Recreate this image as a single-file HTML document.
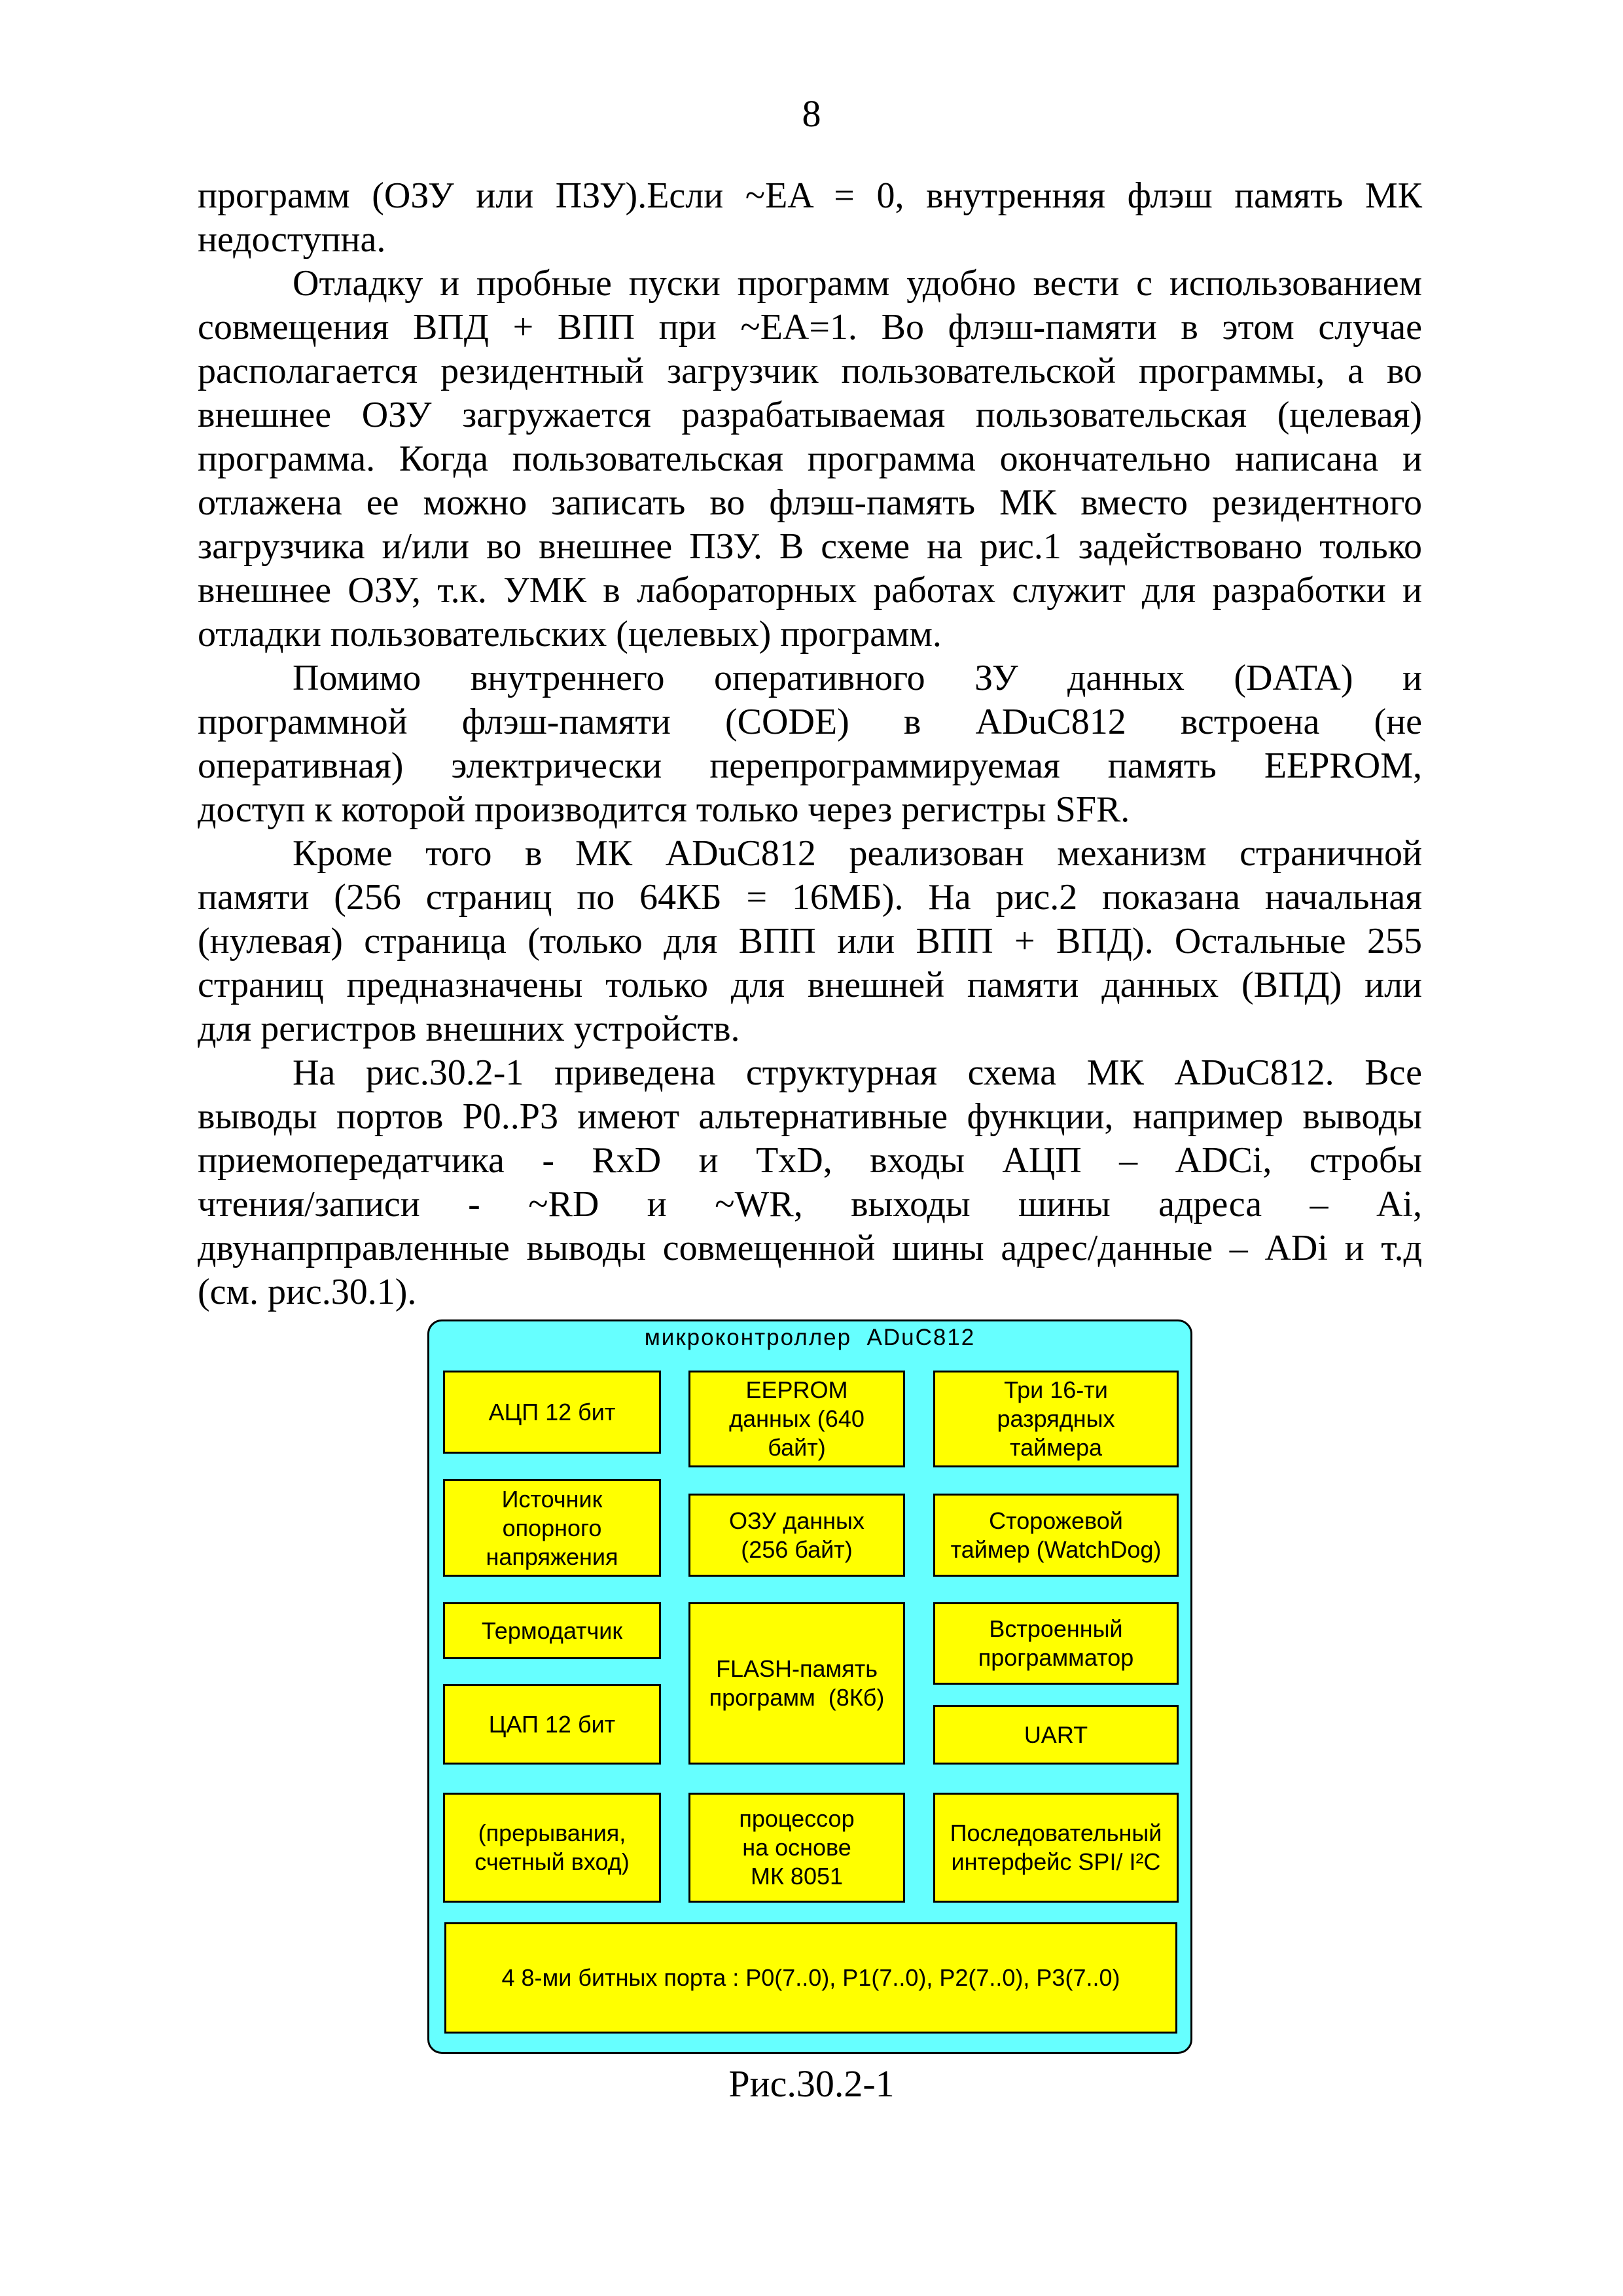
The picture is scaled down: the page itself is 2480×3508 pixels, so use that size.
<!DOCTYPE html>
<html><head><meta charset="utf-8">
<style>
html,body{margin:0;padding:0;background:#fff;}
body{width:2480px;height:3508px;position:relative;overflow:hidden;}
.pn{position:absolute;left:0;width:2480px;top:140px;text-align:center;font:58px "Liberation Serif",serif;line-height:67px;}
.l{position:absolute;left:302px;width:1871px;height:67px;font:56px "Liberation Serif",serif;line-height:67px;color:#000;white-space:nowrap;}
.j{text-align:justify;text-align-last:justify;white-space:normal;}
.i{left:447px;width:1726px;}
.outer{position:absolute;left:653px;top:2016px;width:1163px;height:1116px;background:#66ffff;border:3px solid #000;border-radius:22px;}
.title{position:absolute;left:653px;width:1169px;top:2024px;text-align:center;font:35px "Liberation Sans","DejaVu Sans",sans-serif;letter-spacing:2px;}
.b{position:absolute;background:#ffff00;border:3px solid #000;box-sizing:border-box;display:flex;align-items:center;justify-content:center;text-align:center;font:36px/44px "Liberation Sans","DejaVu Sans",sans-serif;color:#000;}
.cap{position:absolute;left:0;width:2480px;top:3150px;text-align:center;font:58px "Liberation Serif",serif;}
</style></head><body>
<div class="pn">8</div>
<div class="l j" style="top:266px">программ (ОЗУ или ПЗУ).Если ~EA = 0, внутренняя флэш память МК</div>
<div class="l" style="top:333px">недоступна.</div>
<div class="l j i" style="top:400px">Отладку и пробные пуски программ удобно вести с использованием</div>
<div class="l j" style="top:467px">совмещения ВПД + ВПП при ~EA=1. Во флэш-памяти в этом случае</div>
<div class="l j" style="top:534px">располагается резидентный загрузчик пользовательской программы, а во</div>
<div class="l j" style="top:601px">внешнее ОЗУ загружается разрабатываемая пользовательская (целевая)</div>
<div class="l j" style="top:668px">программа. Когда пользовательская программа окончательно написана и</div>
<div class="l j" style="top:735px">отлажена ее можно записать во флэш-память МК вместо резидентного</div>
<div class="l j" style="top:802px">загрузчика и/или во внешнее ПЗУ. В схеме на рис.1 задействовано только</div>
<div class="l j" style="top:869px">внешнее ОЗУ, т.к. УМК в лабораторных работах служит для разработки и</div>
<div class="l" style="top:936px">отладки пользовательских (целевых) программ.</div>
<div class="l j i" style="top:1003px">Помимо внутреннего оперативного ЗУ данных (DATA) и</div>
<div class="l j" style="top:1070px">программной флэш-памяти (CODE) в ADuC812 встроена (не</div>
<div class="l j" style="top:1137px">оперативная) электрически перепрограммируемая память EEPROM,</div>
<div class="l" style="top:1204px">доступ к которой производится только через регистры SFR.</div>
<div class="l j i" style="top:1271px">Кроме того в МК ADuC812 реализован механизм страничной</div>
<div class="l j" style="top:1338px">памяти (256 страниц по 64КБ = 16МБ). На рис.2 показана начальная</div>
<div class="l j" style="top:1405px">(нулевая) страница (только для ВПП или ВПП + ВПД). Остальные 255</div>
<div class="l j" style="top:1472px">страниц предназначены только для внешней памяти данных (ВПД) или</div>
<div class="l" style="top:1539px">для регистров внешних устройств.</div>
<div class="l j i" style="top:1606px">На рис.30.2-1 приведена структурная схема МК ADuC812. Все</div>
<div class="l j" style="top:1673px">выводы портов P0..P3 имеют альтернативные функции, например выводы</div>
<div class="l j" style="top:1740px">приемопередатчика - RxD и TxD, входы АЦП – ADCi, стробы</div>
<div class="l j" style="top:1807px">чтения/записи - ~RD и ~WR, выходы шины адреса – Ai,</div>
<div class="l j" style="top:1874px">двунапрправленные выводы совмещенной шины адрес/данные – ADi и т.д</div>
<div class="l" style="top:1941px">(см. рис.30.1).</div>

<div class="outer"></div>
<div class="title">микроконтроллер&nbsp;&nbsp;ADuC812</div>

<div class="b" style="left:677px;top:2094px;width:333px;height:127px">АЦП 12 бит</div>
<div class="b" style="left:1052px;top:2094px;width:331px;height:148px">EEPROM<br>данных (640<br>байт)</div>
<div class="b" style="left:1426px;top:2094px;width:375px;height:148px">Три 16-ти<br>разрядных<br>таймера</div>

<div class="b" style="left:677px;top:2260px;width:333px;height:149px">Источник<br>опорного<br>напряжения</div>
<div class="b" style="left:1052px;top:2282px;width:331px;height:127px">ОЗУ данных<br>(256 байт)</div>
<div class="b" style="left:1426px;top:2282px;width:375px;height:127px">Сторожевой<br>таймер (WatchDog)</div>

<div class="b" style="left:677px;top:2448px;width:333px;height:87px">Термодатчик</div>
<div class="b" style="left:677px;top:2573px;width:333px;height:123px">ЦАП 12 бит</div>
<div class="b" style="left:1052px;top:2448px;width:331px;height:248px">FLASH-память<br>программ&nbsp;&nbsp;(8Кб)</div>
<div class="b" style="left:1426px;top:2448px;width:375px;height:126px">Встроенный<br>программатор</div>
<div class="b" style="left:1426px;top:2605px;width:375px;height:91px">UART</div>

<div class="b" style="left:677px;top:2739px;width:333px;height:168px">(прерывания,<br>счетный вход)</div>
<div class="b" style="left:1052px;top:2739px;width:331px;height:168px">процессор<br>на основе<br>МК 8051</div>
<div class="b" style="left:1426px;top:2739px;width:375px;height:168px">Последовательный<br>интерфейс SPI/ I²C</div>

<div class="b" style="left:679px;top:2937px;width:1120px;height:170px">4 8-ми битных порта : P0(7..0), P1(7..0), P2(7..0), P3(7..0)</div>

<div class="cap">Рис.30.2-1</div>
</body></html>
